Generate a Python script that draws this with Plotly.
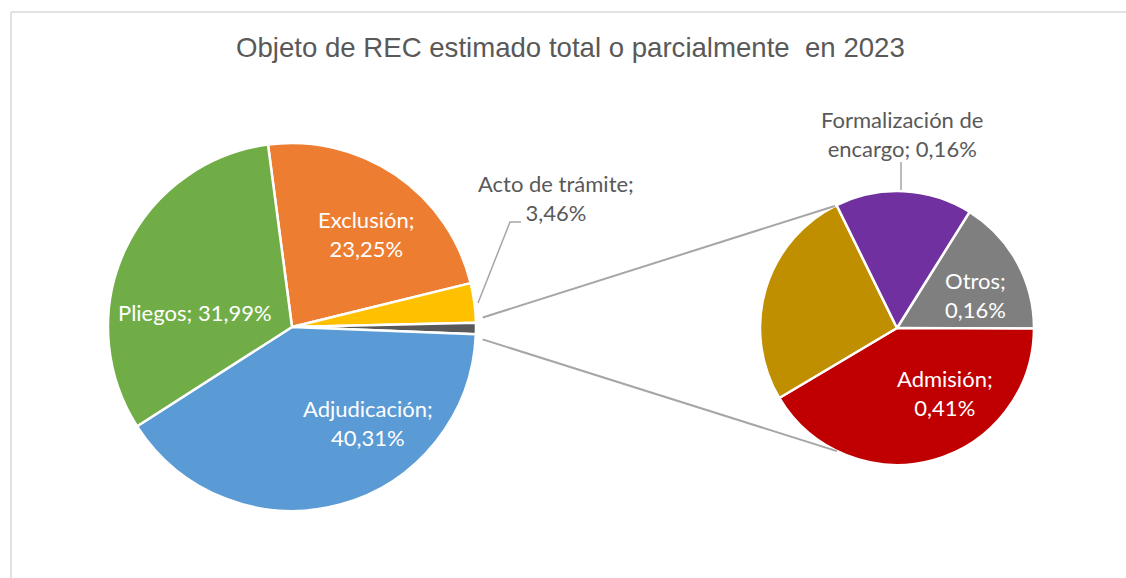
import math
import plotly.graph_objects as go

# ---------------- data ----------------
main_labels = ["Exclusión", "Acto de trámite", "Otros", "Adjudicación", "Pliegos"]
main_values = [23.25, 3.46, None, 40.31, 31.99]          # "Otros" = sum of secondary pie
main_colors = ["#ED7D31", "#FFC000", "#595959", "#5B9BD5", "#70AD47"]

sec_labels = ["Otros", "Admisión", "Resto", "Formalización de encargo"]
sec_values = [0.16, 0.41, 0.26, 0.16]
sec_colors = ["#7F7F7F", "#C00000", "#BF8F00", "#7030A0"]

main_values[2] = round(sum(sec_values), 2)

title_text = "Objeto de REC estimado total o parcialmente\u00a0 en 2023"

# ---------------- geometry helpers ----------------
W, H = 1126, 578
def fx(x): return x / W
def fy(y): return 1 - y / H

cx1, cy1, r1 = 292, 327, 184
cx2, cy2, r2 = 897, 328, 137

def fmt(v):
    return f"{v:.2f}".replace(".", ",") + "%"

fig = go.Figure()

fig.add_trace(go.Pie(
    labels=main_labels, values=main_values, sort=False, direction="clockwise",
    rotation=-7.5, textinfo="none", hoverinfo="label+value",
    marker=dict(colors=main_colors, line=dict(color="white", width=2.5)),
    domain=dict(x=[fx(cx1 - r1), fx(cx1 + r1)], y=[fy(cy1 + r1), fy(cy1 - r1)]),
    showlegend=False,
))
fig.add_trace(go.Pie(
    labels=sec_labels, values=sec_values, sort=False, direction="clockwise",
    rotation=32, textinfo="none", hoverinfo="label+value",
    marker=dict(colors=sec_colors, line=dict(color="white", width=2.5)),
    domain=dict(x=[fx(cx2 - r2), fx(cx2 + r2)], y=[fy(cy2 + r2), fy(cy2 - r2)]),
    showlegend=False,
))

# ---------------- connector lines (derived from pie geometry) ----------------
tot = sum(main_values)
start = 90 + 7.5  # math angle of first slice start
a = start
angles = []
for v in main_values:
    b = a - v / tot * 360
    angles.append((a, b))
    a = b
o_start, o_end = angles[2]
shapes = []
line_col = "#A6A6A6"
for ang_main, ang_sec in [(o_start + 1.5, 117), (o_end - 1.5, -116)]:
    x0 = cx1 + (r1 + 7) * math.cos(math.radians(ang_main))
    y0 = cy1 - (r1 + 7) * math.sin(math.radians(ang_main))
    x1 = cx2 + r2 * math.cos(math.radians(ang_sec))
    y1 = cy2 - r2 * math.sin(math.radians(ang_sec))
    shapes.append(dict(type="line", xref="paper", yref="paper",
                       x0=fx(x0), y0=fy(y0), x1=fx(x1), y1=fy(y1),
                       line=dict(color=line_col, width=2)))

# leader lines
shapes.append(dict(type="path", xref="paper", yref="paper",
                   path=f"M {fx(478)},{fy(303)} L {fx(510)},{fy(222)} L {fx(521)},{fy(222)}",
                   line=dict(color=line_col, width=1.5)))
shapes.append(dict(type="line", xref="paper", yref="paper",
                   x0=fx(901), y0=fy(162), x1=fx(901), y1=fy(190),
                   line=dict(color=line_col, width=1.5)))

# frame
shapes.append(dict(type="line", xref="paper", yref="paper",
                   x0=fx(11), y0=fy(12), x1=1, y1=fy(12),
                   line=dict(color="#D9D9D9", width=1.5)))
shapes.append(dict(type="line", xref="paper", yref="paper",
                   x0=fx(11), y0=fy(12), x1=fx(11), y1=0,
                   line=dict(color="#D9D9D9", width=1.5)))

# ---------------- labels ----------------
lab_font = "Lato, 'Open Sans', sans-serif"
def ann(text, x, y, color):
    return dict(text=text, x=fx(x), y=fy(y), xref="paper", yref="paper",
                showarrow=False, xanchor="center", yanchor="middle", align="center",
                font=dict(family=lab_font, size=22, color=color))

annotations = [
    ann(f"{main_labels[0]};<br>{fmt(main_values[0])}", 366, 234, "white"),
    ann(f"{main_labels[1]};<br>{fmt(main_values[1])}", 556, 198, "#595959"),
    ann(f"{main_labels[3]};<br>{fmt(main_values[3])}", 368, 423, "white"),
    ann(f"{main_labels[4]}; {fmt(main_values[4])}", 195, 312, "white"),
    ann(f"Formalización de<br>encargo; {fmt(sec_values[3])}", 902, 134, "#595959"),
    ann(f"{sec_labels[0]};<br>{fmt(sec_values[0])}", 975, 295, "white"),
    ann(f"{sec_labels[1]};<br>{fmt(sec_values[1])}", 945, 393, "white"),
    dict(text=title_text, x=fx(570), y=fy(48), xref="paper", yref="paper",
         showarrow=False, xanchor="center", yanchor="middle",
         font=dict(family="Liberation Sans, Arial, sans-serif", size=27.6, color="#595959")),
]

fig.update_layout(
    width=W, height=H, margin=dict(l=0, r=0, t=0, b=0),
    paper_bgcolor="white", plot_bgcolor="white",
    shapes=shapes, annotations=annotations,
)

fig.write_html("out.html", config={"displayModeBar": False},
               post_script="document.body.style.margin='0';document.body.style.overflow='hidden';")
